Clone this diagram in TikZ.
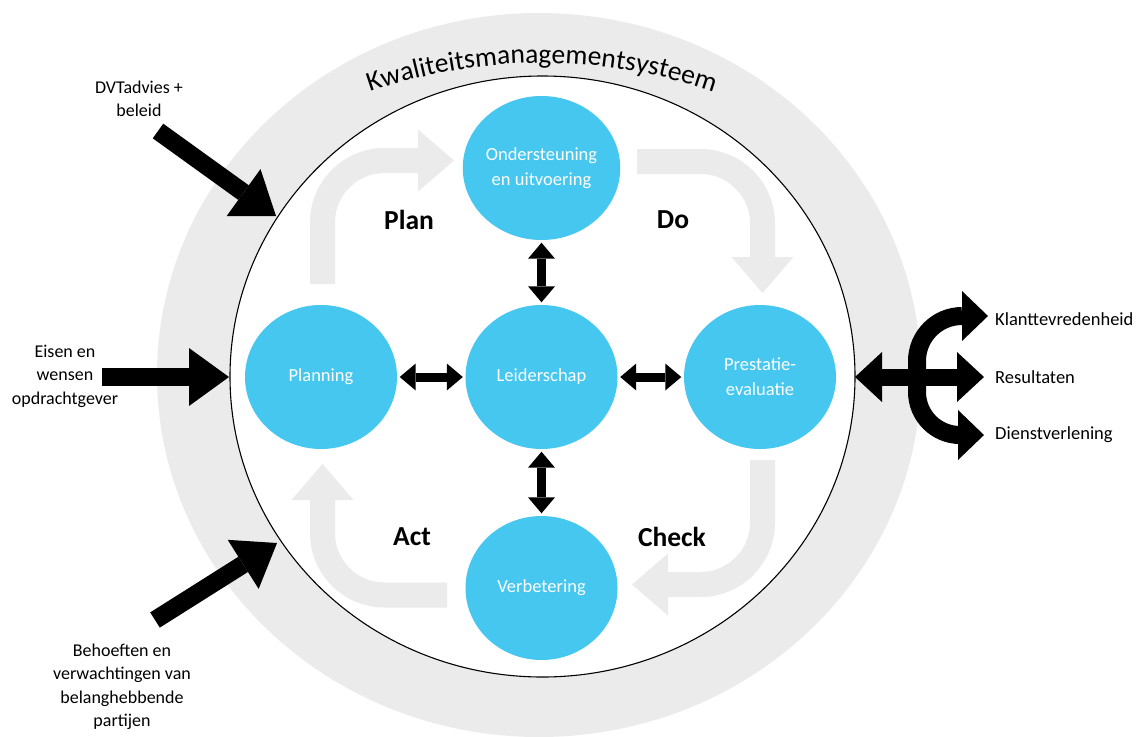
\documentclass[tikz,border=0pt]{standalone}
\usepackage{fontspec}
\setmainfont{Carlito}
\usetikzlibrary{arrows.meta,decorations.text,shapes.geometric}
\definecolor{ringgrey}{HTML}{EBEBEB}
\definecolor{bluec}{HTML}{45C7F0}
\begin{document}
\begin{tikzpicture}[x=1pt,y=1pt,
  bluecirc/.style={ellipse,minimum width=152pt,minimum height=144pt,inner sep=0pt,
    fill=bluec,text=white,align=center,font=\fontsize{18.5}{25}\selectfont},
  phase/.style={font=\fontsize{27.5}{30}\selectfont\bfseries,inner sep=0pt},
  sidelabel/.style={align=center,inner sep=0pt,font=\fontsize{18}{23.5}\selectfont},
  outlabel/.style={anchor=west,inner sep=0pt,font=\fontsize{18.5}{22}\selectfont},
  cyclearrow/.style={draw=ringgrey,line width=25pt,rounded corners=62pt,
    -{Triangle[width=62pt,length=36pt,line width=0pt]}},
  bigarrow/.style={line width=18pt,-{Triangle[width=58pt,length=40pt,line width=0pt]}},
  linkarrow/.style={line width=9pt,
    {Triangle[width=27pt,length=16pt,line width=0pt]}-{Triangle[width=27pt,length=16pt,line width=0pt]},
    shorten >=2.5pt,shorten <=2.5pt},
  outarrow/.style={line width=18pt,-{Triangle[width=50pt,length=26pt,line width=0pt]}}
]
\useasboundingbox (0,0) rectangle (1139,-736);

% rings
\fill[ringgrey] (539,-375) ellipse[x radius=382,y radius=362];
\filldraw[fill=white,draw=black,line width=1.1pt] (542.5,-376.5) ellipse[x radius=312.5,y radius=300.5];

% title along arc
\path[decorate,decoration={text along path,text align=center,
  text={|\fontsize{27.5}{30}\selectfont|Kwaliteitsmanagementsysteem}}]
  (345.1,-101.3) arc[start angle=112,end angle=68,radius=525];

% grey cycle arrows
\coordinate (tlA) at (322.5,-284);  \coordinate (tlB) at (322.5,-160.5); \coordinate (tlC) at (454,-160.5);
\coordinate (trA) at (637,-161.5);  \coordinate (trB) at (762.5,-161.5); \coordinate (trC) at (762.5,-293);
\coordinate (brA) at (762.5,-460);  \coordinate (brB) at (762.5,-584.5); \coordinate (brC) at (632,-584.5);
\coordinate (blA) at (447,-595);    \coordinate (blB) at (322.5,-595);   \coordinate (blC) at (322.5,-464);
\draw[cyclearrow] (tlA) -- (tlB) -- (tlC);
\draw[cyclearrow] (trA) -- (trB) -- (trC);
\draw[cyclearrow] (brA) -- (brB) -- (brC);
\draw[cyclearrow] (blA) -- (blB) -- (blC);

% blue circles
\node[bluecirc] (ond) at (541.5,-168) {Ondersteuning\\en uitvoering};
\node[bluecirc] (plan) at (321,-377) {Planning};
\node[bluecirc] (lead) at (541.5,-377) {Leiderschap};
\node[bluecirc] (pres) at (760,-377) {Prestatie-\\evaluatie};
\node[bluecirc] (verb) at (541.5,-588) {Verbetering};

% links
\draw[linkarrow] (ond.south) -- (lead.north);
\draw[linkarrow] (lead.south) -- (verb.north);
\draw[linkarrow] (plan.east) -- (lead.west);
\draw[linkarrow] (lead.east) -- (pres.west);

% phase labels
\node[phase] (lplan) at (409,-219.5) {Plan};
\node[phase] (ldo) at (673,-219.5) {Do};
\node[phase] (lact) at (412,-537) {Act};
\node[phase] (lcheck) at (672,-537) {Check};

% left inputs
\node[sidelabel] (dvt) at (139,-99) {DVTadvies +\\beleid};
\node[sidelabel] (eisen) at (65,-376) {Eisen en\\wensen\\opdrachtgever};
\node[sidelabel] (beh) at (122,-687) {Behoeften en\\verwachtingen van\\belanghebbende\\partijen};
\coordinate (dvtT) at (158,-131); \coordinate (dvtH) at (276,-216);
\coordinate (eisT) at (102,-377); \coordinate (eisH) at (229,-377);
\coordinate (behT) at (155,-620); \coordinate (behH) at (277,-543);
\draw[bigarrow] (dvtT) -- (dvtH);
\draw[bigarrow] (eisT) -- (eisH);
\draw[bigarrow] (behT) -- (behH);

% right outputs
\node[outlabel] (klant) at (995,-319) {Klanttevredenheid};
\node[outlabel] (res) at (995,-377) {Resultaten};
\node[outlabel] (dienst) at (995,-435) {Dienstverlening};
\coordinate (hubL) at (855,-377); \coordinate (hubR) at (984,-377);
\coordinate (stem) at (917,-377);
\coordinate (upT) at (988,-316); \coordinate (dnT) at (984,-435);
\draw[line width=17pt,{Triangle[width=50pt,length=27pt,line width=0pt]}-{Triangle[width=50pt,length=27pt,line width=0pt]}] (hubL) -- (hubR);
\draw[outarrow] (stem) -- ++(0,16) arc[start angle=180,end angle=90,radius=45] -- (upT);
\draw[outarrow] (stem) -- ++(0,-15) arc[start angle=180,end angle=270,radius=43] -- (dnT);
\end{tikzpicture}
\end{document}
